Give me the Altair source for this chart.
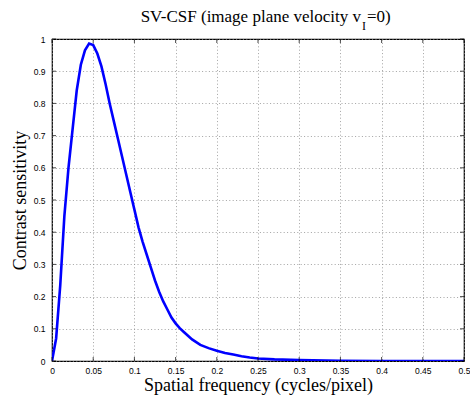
import altair as alt
import pandas as pd

# Spatial frequency (cycles/pixel) and contrast sensitivity
freq = [0, 0.005, 0.01, 0.015, 0.02, 0.025, 0.03, 0.035, 0.04, 0.045, 0.05,
        0.055, 0.06, 0.065, 0.07, 0.075, 0.08, 0.085, 0.09, 0.095, 0.10,
        0.105, 0.11, 0.115, 0.12, 0.125, 0.13, 0.135, 0.14, 0.145, 0.15,
        0.155, 0.16, 0.17, 0.18, 0.19, 0.20, 0.21, 0.22, 0.23, 0.24, 0.25,
        0.27, 0.30, 0.35, 0.40, 0.45, 0.50]
sens = [0, 0.07, 0.235, 0.45, 0.60, 0.72, 0.84, 0.92, 0.965, 0.986, 0.981,
        0.955, 0.915, 0.86, 0.80, 0.745, 0.69, 0.635, 0.58, 0.525, 0.47,
        0.415, 0.37, 0.33, 0.29, 0.25, 0.215, 0.185, 0.16, 0.135, 0.117,
        0.102, 0.09, 0.067, 0.05, 0.04, 0.032, 0.025, 0.02, 0.015, 0.011, 0.008,
        0.005, 0.003, 0.001, 0, 0, 0]

x_ticks = [0, 0.05, 0.1, 0.15, 0.2, 0.25, 0.3, 0.35, 0.4, 0.45, 0.5]
y_ticks = [0, 0.1, 0.2, 0.3, 0.4, 0.5, 0.6, 0.7, 0.8, 0.9, 1]

title_main = "SV-CSF (image plane velocity v"
title_sub = "I"
title_end = "=0)"
x_title = "Spatial frequency (cycles/pixel)"
y_title = "Contrast sensitivity"

W, H = 412, 322

df = pd.DataFrame({"f": freq, "s": sens})
xt = pd.DataFrame({"v": x_ticks})
yt = pd.DataFrame({"v": y_ticks})

xs = alt.Scale(domain=[0, 0.5], nice=False, zero=False)
ys = alt.Scale(domain=[0, 1], nice=False, zero=False)

label_font = "Liberation Sans"
serif = "Liberation Serif"

ax_x = alt.Axis(values=x_ticks, format="~g", title=x_title,
                grid=True, gridColor="#8c8c8c", gridDash=[1, 2.4], gridWidth=0.8,
                ticks=False, domain=False, labelFont=label_font,
                labelFontSize=8.5, labelColor="#000", labelPadding=5,
                labelOverlap=False, labelFlush=False, labelBound=False,
                titleFont=serif, titleFontSize=18, titleFontWeight="normal",
                titleColor="#000", titleBaseline="alphabetic", titleY=29)
ax_y = alt.Axis(values=y_ticks, format="~g", title=y_title,
                grid=True, gridColor="#8c8c8c", gridDash=[1, 2.4], gridWidth=0.8,
                ticks=False, domain=False, labelFont=label_font,
                labelFontSize=8.5, labelColor="#000", labelPadding=7,
                labelOverlap=False, labelFlush=False, labelBound=False,
                titleFont=serif, titleFontSize=18, titleFontWeight="normal",
                titleColor="#000", titleBaseline="alphabetic", titleX=-27)

line = alt.Chart(df).mark_line(color="#0000FF", strokeWidth=2.6, clip=True).encode(
    x=alt.X("f:Q", scale=xs, axis=ax_x),
    y=alt.Y("s:Q", scale=ys, axis=ax_y),
)

tick_style = dict(color="#000", thickness=1, size=4)
xt_bottom = alt.Chart(xt).mark_tick(orient="vertical", **tick_style).encode(
    x=alt.X("v:Q", scale=xs, axis=ax_x), y=alt.value(H - 2))
xt_top = alt.Chart(xt).mark_tick(orient="vertical", **tick_style).encode(
    x=alt.X("v:Q", scale=xs, axis=ax_x), y=alt.value(2))
yt_left = alt.Chart(yt).mark_tick(orient="horizontal", **tick_style).encode(
    y=alt.Y("v:Q", scale=ys, axis=ax_y), x=alt.value(2))
yt_right = alt.Chart(yt).mark_tick(orient="horizontal", **tick_style).encode(
    y=alt.Y("v:Q", scale=ys, axis=ax_y), x=alt.value(W - 2))

t_main = alt.Chart(pd.DataFrame({"t": [title_main]})).mark_text(
    font=serif, fontSize=17, align="right", baseline="alphabetic", color="#000"
).encode(text="t:N", x=alt.value(309), y=alt.value(-17))
t_sub = alt.Chart(pd.DataFrame({"t": [title_sub]})).mark_text(
    font=serif, fontSize=12, align="left", baseline="alphabetic", color="#000"
).encode(text="t:N", x=alt.value(310), y=alt.value(-9))
t_end = alt.Chart(pd.DataFrame({"t": [title_end]})).mark_text(
    font=serif, fontSize=17, align="left", baseline="alphabetic", color="#000"
).encode(text="t:N", x=alt.value(315), y=alt.value(-17))

chart = alt.layer(line, xt_bottom, xt_top, yt_left, yt_right, t_main, t_sub, t_end).properties(
    width=W, height=H,
    autosize=alt.AutoSizeParams(type="none"),
    padding={"left": 52, "top": 39, "right": 6, "bottom": 37},
    background="white",
).configure_view(stroke="#000", strokeWidth=1.2)

chart.save("out.html", embed_options={"renderer": "svg", "actions": False})
